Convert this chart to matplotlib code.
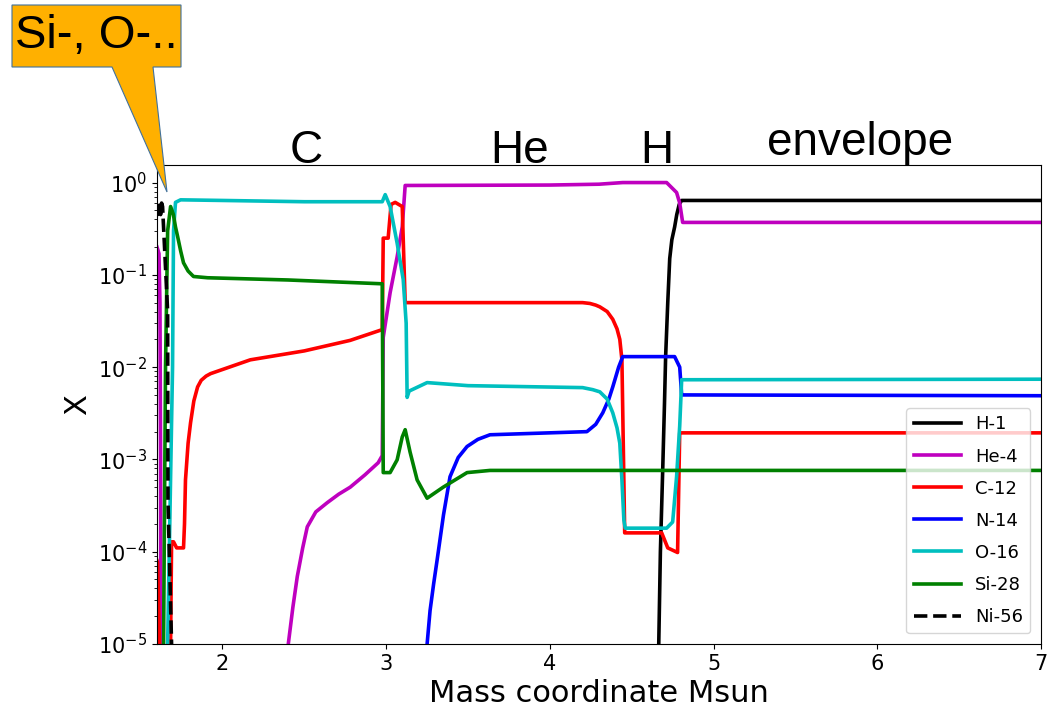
import matplotlib
matplotlib.use("Agg")
import matplotlib.pyplot as plt
from matplotlib.patches import Polygon
import numpy as np


# abundance profiles (mass coordinate, mass fraction)
h1_m = [4.655, 4.665, 4.675, 4.689, 4.700, 4.707, 4.720, 4.732, 4.745, 4.762,
        4.775, 4.790, 4.805, 7.0]
h1_x = [1e-6, 1e-5, 1e-4, 7.5e-4, 4e-3, 1.3e-2, 0.05, 0.15, 0.24, 0.33,
        0.45, 0.58, 0.64, 0.64]

he4_m = [1.600, 1.604, 1.612, 1.618, 1.622, 1.626, 2.38, 2.402, 2.43, 2.457,
         2.49, 2.518, 2.57, 2.64, 2.71, 2.78, 2.87, 2.951, 2.976, 2.982,
         3.024, 3.067, 3.098, 3.116, 4.0, 4.3, 4.445, 4.713, 4.774, 4.793,
         4.811, 7.0]
he4_x = [0.2, 0.19, 0.17, 0.05, 1e-3, 1e-8, 1e-8, 1e-5, 2.5e-5, 5.4e-5,
         1.1e-4, 1.86e-4, 2.7e-4, 3.4e-4, 4.2e-4, 5e-4, 6.8e-4, 9.2e-4, 1.1e-3, 0.021,
         0.064, 0.157, 0.33, 0.93, 0.94, 0.96, 1.0, 1.0, 0.78, 0.6,
         0.37, 0.37]

c12_m = [1.600, 1.604, 1.615, 1.62, 1.675, 1.683, 1.689, 1.701, 1.72, 1.762,
         1.768, 1.774, 1.79, 1.805, 1.825, 1.848, 1.87, 1.90, 1.927, 2.17,
         2.5, 2.78, 2.976, 2.982, 3.012, 3.03, 3.055, 3.098, 3.116, 4.2,
         4.244, 4.28, 4.305, 4.35, 4.384, 4.41, 4.427, 4.44, 4.457, 4.683,
         4.72, 4.78, 4.793, 7.0]
c12_x = [8e-5, 7.6e-5, 1e-5, 1e-7, 1e-7, 1e-5, 1.28e-4, 1.28e-4, 1.1e-4, 1.1e-4,
         2e-4, 6e-4, 1.5e-3, 2.5e-3, 4.3e-3, 6.1e-3, 7.2e-3, 8e-3, 8.5e-3, 1.2e-2,
         1.5e-2, 1.95e-2, 2.55e-2, 0.25, 0.25, 0.58, 0.61, 0.55, 0.05, 0.05,
         0.049, 0.047, 0.045, 0.04, 0.033, 0.026, 0.02, 0.012, 1.6e-4, 1.6e-4,
         1.1e-4, 9.8e-5, 1.94e-3, 1.94e-3]

n14_m = [3.245, 3.25, 3.268, 3.29, 3.311, 3.35, 3.39, 3.44, 3.494, 3.56,
         3.634, 4.226, 4.28, 4.323, 4.36, 4.384, 4.42, 4.445, 4.762, 4.793,
         4.805, 7.0]
n14_x = [1e-6, 1e-5, 2.3e-5, 4.5e-5, 8.1e-5, 2.5e-4, 6.5e-4, 1.05e-3, 1.38e-3, 1.65e-3,
         1.85e-3, 2.0e-3, 2.4e-3, 3.2e-3, 4.5e-3, 6.1e-3, 1e-2, 1.3e-2, 1.3e-2, 1.0e-2,
         5.0e-3, 4.9e-3]

o16_m = [1.660, 1.665, 1.695, 1.701, 1.713, 1.744, 2.0, 2.5, 2.976, 2.994,
         3.024, 3.067, 3.104, 3.122, 3.128, 3.14, 3.25, 3.5, 4.2, 4.262,
         4.305, 4.35, 4.384, 4.41, 4.427, 4.44, 4.452, 4.46, 4.713, 4.75,
         4.774, 4.793, 4.805, 7.0]
o16_x = [1e-6, 1e-5, 0.01, 0.3, 0.61, 0.65, 0.64, 0.62, 0.62, 0.74,
         0.55, 0.22, 0.089, 0.03, 4.7e-3, 5.5e-3, 6.8e-3, 6.3e-3, 6.0e-3, 5.7e-3,
         5.4e-3, 4.5e-3, 3.2e-3, 2.2e-3, 1.5e-3, 6e-4, 2.2e-4, 1.8e-4, 1.8e-4, 2.1e-4,
         6.5e-4, 2.3e-3, 7.3e-3, 7.4e-3]

si28_m = [1.636, 1.640, 1.652, 1.665, 1.683, 1.700, 1.713, 1.726, 1.745, 1.762,
          1.79, 1.823, 1.909, 2.4, 2.976, 2.982, 3.024, 3.067, 3.098, 3.116,
          3.146, 3.189, 3.25, 3.348, 3.494, 3.634, 7.0]
si28_x = [1e-6, 1e-5, 0.01, 0.3, 0.55, 0.45, 0.33, 0.26, 0.18, 0.135,
          0.11, 0.096, 0.093, 0.088, 0.080, 7.2e-4, 7.2e-4, 9.9e-4, 1.75e-3, 2.1e-3,
          1.2e-3, 6e-4, 3.8e-4, 5e-4, 7.2e-4, 7.6e-4, 7.6e-4]

ni56_m = [1.600, 1.604, 1.615, 1.622, 1.628, 1.634, 1.665, 1.667, 1.689, 1.692]
ni56_x = [0.5, 0.45, 0.62, 0.45, 0.6, 0.55, 0.04, 3.6e-4, 1e-5, 1e-6]

zones = ["C", "He", "H", "envelope"]
zone_px = [306, 520, 657, 860]
zone_base = [163, 163, 163, 155]

W, H = 1055, 712
fig = plt.figure(figsize=(W / 100, H / 100), dpi=100)
ax = fig.add_axes([157 / W, 1 - 644 / H, (1041 - 157) / W, (644 - 165) / H])

lw = 2.6
ax.plot(h1_m, h1_x, color='k', lw=lw, label='H-1')
ax.plot(he4_m, he4_x, color='m', lw=lw, label='He-4')
ax.plot(c12_m, c12_x, color='r', lw=lw, label='C-12')
ax.plot(n14_m, n14_x, color='b', lw=lw, label='N-14')
ax.plot(o16_m, o16_x, color='c', lw=lw, label='O-16')
ax.plot(si28_m, si28_x, color='g', lw=lw, label='Si-28')
ax.plot(ni56_m, ni56_x, 'k--', lw=lw, label='Ni-56')

ax.set_yscale('log')
ax.set_xlim(1.6, 7)
ax.set_ylim(1e-5, 1.55)
ax.tick_params(labelsize=15)
ax.set_xlabel('Mass coordinate Msun', fontsize=22)
ax.set_ylabel('X', fontsize=22)
ax.legend(loc='lower right', fontsize=13, handlelength=2.6, labelspacing=0.78,
          borderaxespad=0.6)

# zone names above the plot
for name, px, base in zip(zones, zone_px, zone_base):
    fig.text(px / W, 1 - base / H, name, ha='center', va='baseline',
             fontsize=33, family='Liberation Sans')

# callout box
pts = [(12, 5), (181, 5), (181, 67), (153, 67), (167, 192), (112, 67), (12, 67)]
poly = Polygon([(x / W, 1 - y / H) for x, y in pts], closed=True,
               facecolor='#FFB000', edgecolor='#41719C', lw=0.8,
               transform=fig.transFigure, zorder=10)
fig.patches.append(poly)
fig.text(96 / W, 1 - 36 / H, 'Si-, O-..', ha='center', va='center',
         fontsize=34, family='Liberation Sans', zorder=11)

fig.savefig('out.png', dpi=100)
